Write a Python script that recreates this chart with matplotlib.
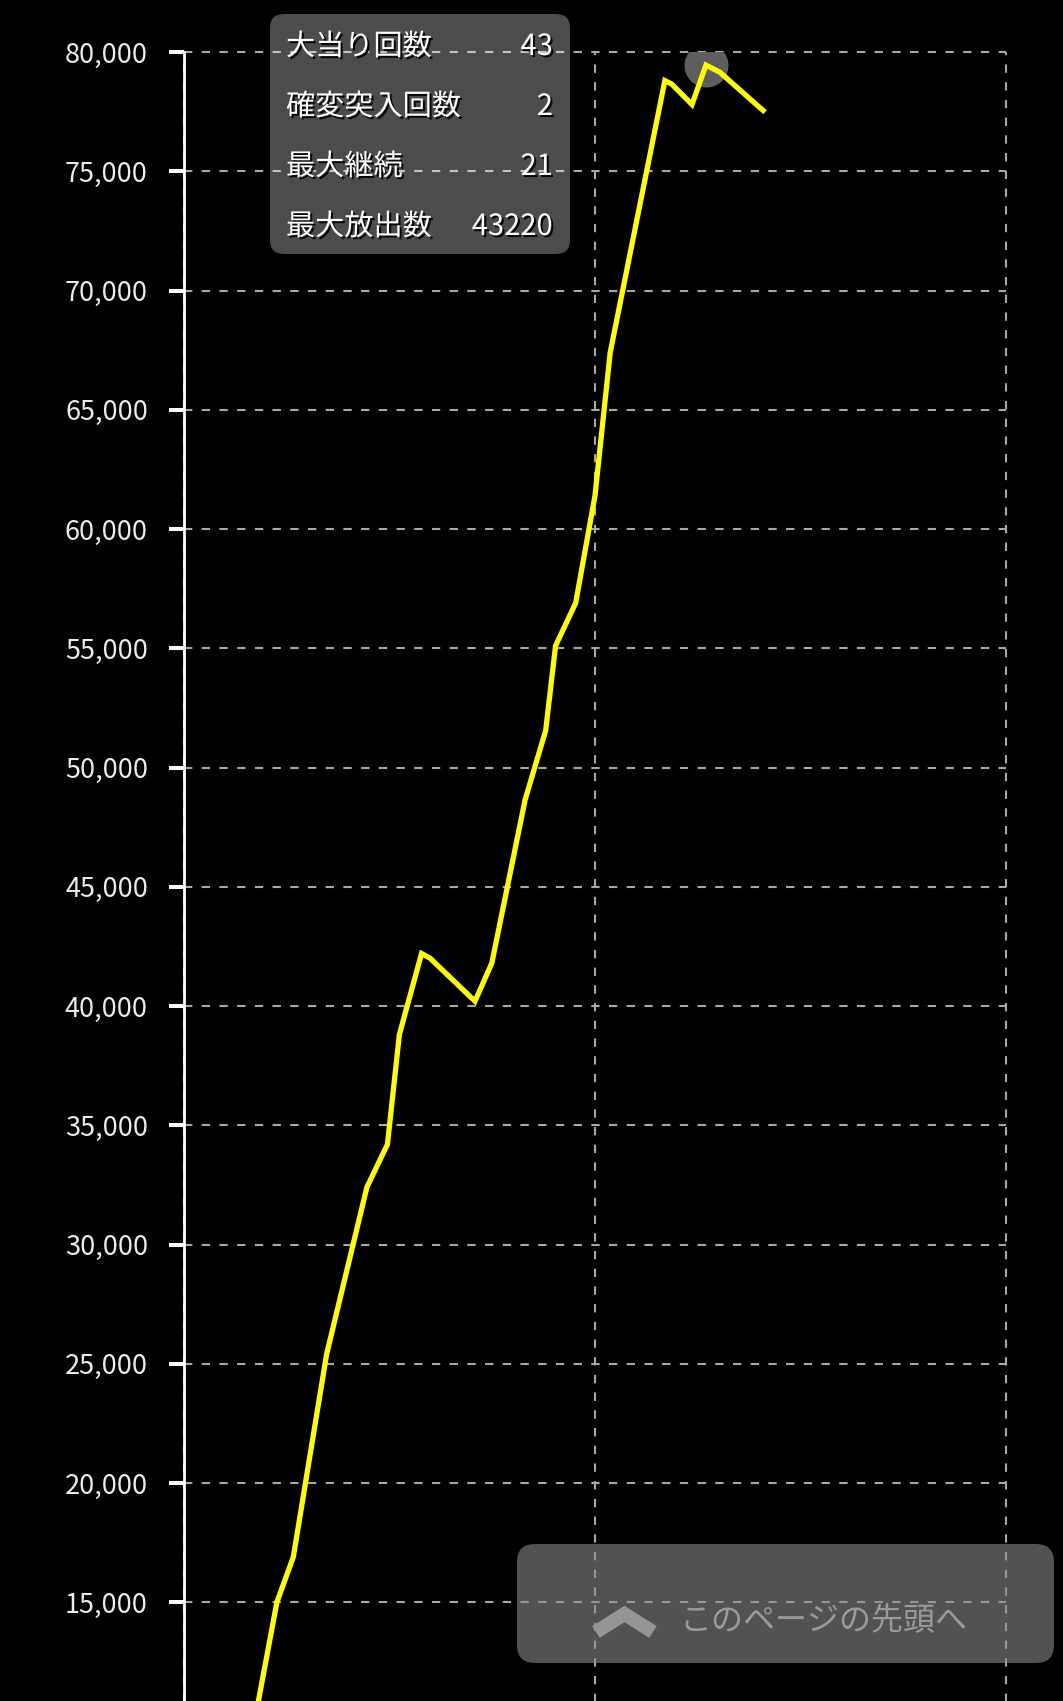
import matplotlib
matplotlib.use('Agg')
import matplotlib.pyplot as plt
import matplotlib.patheffects as pe
from matplotlib.patches import FancyBboxPatch
from matplotlib.lines import Line2D
from matplotlib.transforms import Affine2D

plt.rcParams['font.family'] = ['Noto Sans CJK JP', 'DejaVu Sans']

# spins vs. ball difference (start of the run lies below the visible area)
spins = [0, 60, 150, 226, 266, 347, 445, 495, 524, 578, 599, 708, 749, 830,
         880, 904, 953, 1000, 1037, 1170, 1187, 1236, 1270, 1304, 1389, 1409]
balls = [0, -1500, 8000, 15000, 16900, 25400, 32400, 34200, 38800, 42200,
         42000, 40200, 41800, 48650, 51550, 55100, 56900, 61400, 67400,
         78800, 78650, 77800, 79450, 79150, 77850, 77550]
peak_index = 22

# only the ticks that fall inside the screenshot
y_ticks = list(range(15000, 80001, 5000))
x_ticks = [0, 1000, 2000]

stat_names = ['大当り回数', '確変突入回数', '最大継続', '最大放出数']
stat_values = ['43', '2', '21', '43220']
button_text = 'このページの先頭へ'

W, H = 1063, 1701
fig = plt.figure(figsize=(W / 100, H / 100), dpi=100, facecolor='black')
# pixel coords, y measured from the top
px = Affine2D().scale(1, -1).translate(0, H)

# axes: left spine at x=184, 80,000 at y=52, the bottom runs off the page
ax = fig.add_axes([184 / W, 1 - 2198.5 / H, 822 / W, 2146.5 / H])
ax.set_facecolor('black')
ax.set_xlim(0, 2000)
ax.set_ylim(-10000, 80000)
ax.set_xticks(x_ticks)
ax.set_yticks(y_ticks)
ax.set_yticklabels([f'{v:,}' for v in y_ticks])
ax.tick_params(axis='y', colors='white', length=11, width=2.9, pad=15,
               labelsize=19.5, labelcolor='#ececec')
ax.tick_params(axis='x', length=0, labelbottom=False)
for side in ['top', 'right', 'bottom']:
    ax.spines[side].set_visible(False)
ax.spines['left'].set_color('white')
ax.spines['left'].set_linewidth(2)
ax.grid(True, color='#a8a8a8', linewidth=1.5, linestyle=(0, (4, 4.5)))
ax.set_axisbelow(True)
for gl in ax.get_ygridlines() + ax.get_xgridlines():
    gl.set_clip_on(False)

# highlight on the top point, then the line
ax.plot(spins[peak_index], balls[peak_index], 'o', ms=31.7, color='#5e5e5e',
        mec='none', zorder=2)
ax.plot(spins, balls, color='#ffff00', lw=3.8, zorder=3,
        solid_joinstyle='miter')

# info box
fig.add_artist(FancyBboxPatch((270, 14), 300, 240,
                              boxstyle='round,pad=0,rounding_size=14',
                              transform=px, facecolor='white', alpha=0.3,
                              edgecolor='none'))
shadow = [pe.SimplePatchShadow(offset=(1.5, -1.5), shadow_rgbFace='black',
                               alpha=0.9), pe.Normal()]
for i, (name, val) in enumerate(zip(stat_names, stat_values)):
    y = 47 + i * 60
    fig.text(286, y, name, transform=px, color='white', fontsize=21,
             va='center', ha='left', path_effects=shadow)
    fig.text(553, y, val, transform=px, color='white', fontsize=21,
             va='center', ha='right', path_effects=shadow)

# page-top button
fig.add_artist(FancyBboxPatch((517, 1544), 537, 119,
                              boxstyle='round,pad=0,rounding_size=18',
                              transform=px, facecolor='#8a8a8a', alpha=0.6,
                              edgecolor='none'))
fig.add_artist(Line2D([596, 624.5, 653], [1632, 1614, 1632], transform=px,
                      color='#959595', lw=10, solid_joinstyle='miter',
                      solid_capstyle='butt'))
fig.text(823, 1621, button_text, transform=px, color='#9a9a9a', fontsize=23,
         va='center', ha='center')

fig.savefig('out.png', dpi=100, facecolor='black')
